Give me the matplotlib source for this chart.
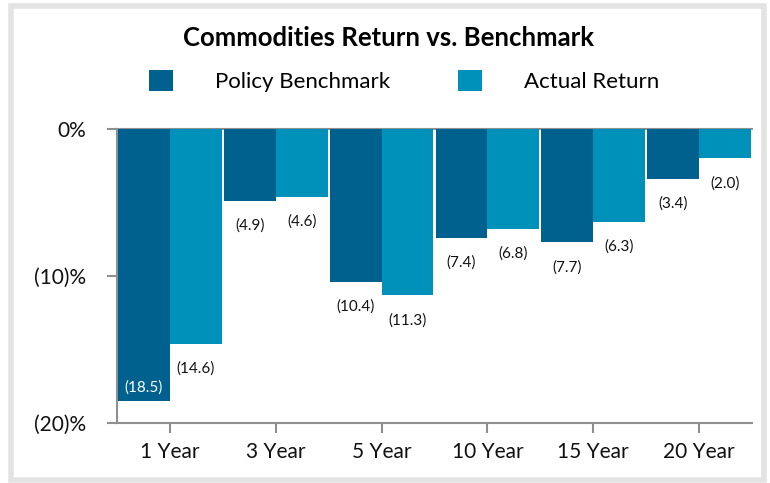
import numpy as np
import matplotlib.pyplot as plt
from matplotlib.patches import Rectangle

# Chart data
periods = ['1 Year', '3 Year', '5 Year', '10 Year', '15 Year', '20 Year']
policy_benchmark = [-18.5, -4.9, -10.4, -7.4, -7.7, -3.4]
actual_return = [-14.6, -4.6, -11.3, -6.8, -6.3, -2.0]
y_ticks = [0, -10, -20]
y_tick_labels = ['0%', '(10)%', '(20)%']

dark_blue = '#00618f'
light_blue = '#0091ba'
axis_gray = '#8f8f8f'
font = ['Lato', 'DejaVu Sans']


def fmt(v):
    return f'({abs(v):.1f})' if v < 0 else f'{v:.1f}'


def main():
    plt.rcParams['font.family'] = font
    fig = plt.figure(figsize=(7.7, 4.83), dpi=100)
    fig.patch.set_facecolor('white')

    # outer frame
    fig.patches.append(Rectangle((11 / 770, 3 / 483), 753 / 770, 474 / 483,
                                 transform=fig.transFigure, fill=False,
                                 edgecolor='#e3e3e3', linewidth=4))

    ax = fig.add_axes([117 / 770, 1 - 423 / 483, 635 / 770, 294 / 483])
    x = np.arange(len(periods))
    w = 0.49
    b1 = ax.bar(x - w / 2, policy_benchmark, w, color=dark_blue, label='Policy Benchmark', zorder=2)
    b2 = ax.bar(x + w / 2, actual_return, w, color=light_blue, label='Actual Return', zorder=2)

    ax.set_xlim(-0.5, len(periods) - 0.5)
    ax.set_ylim(-20, 0)

    # value labels under each bar (largest one sits inside its bar)
    for bars, vals in [(b1, policy_benchmark), (b2, actual_return)]:
        for rect, v in zip(bars, vals):
            cx = rect.get_x() + rect.get_width() / 2
            if v <= -18:
                ax.annotate(fmt(v), (cx, v), xytext=(0, 10), textcoords='offset points',
                            ha='center', va='center', fontsize=11, color='white')
            else:
                ax.annotate(fmt(v), (cx, v), xytext=(0, -18), textcoords='offset points',
                            ha='center', va='center', fontsize=11, color='#111111')

    ax.set_xticks(x)
    ax.set_xticklabels(periods, fontsize=15)
    ax.set_yticks(y_ticks)
    ax.set_yticklabels(y_tick_labels, fontsize=15)
    ax.tick_params(axis='x', length=7.5, width=1.5, color=axis_gray, pad=6, labelcolor='#111111')
    ax.tick_params(axis='y', length=7.5, width=1.5, color=axis_gray, pad=15, labelcolor='#111111')

    for side in ['left', 'bottom', 'top']:
        ax.spines[side].set_color(axis_gray)
        ax.spines[side].set_linewidth(1.5)
        ax.spines[side].set_zorder(1)
    ax.spines['right'].set_visible(False)

    fig.text(0.505, 1 - 38 / 483, 'Commodities Return vs. Benchmark', ha='center', va='center',
             fontsize=18.5, fontweight='bold')

    fig.legend(handles=[b1, b2], loc='center', bbox_to_anchor=(0.525, 1 - 81 / 483),
               ncol=2, frameon=False, fontsize=16, handlelength=1.08, handleheight=1.08,
               handletextpad=1.9, columnspacing=3.06)

    fig.savefig('out.png', dpi=100)


if __name__ == "__main__":
    main()
